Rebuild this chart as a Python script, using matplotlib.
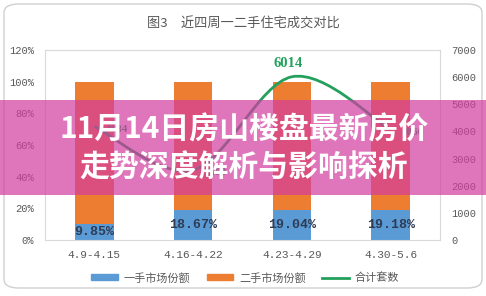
import matplotlib.pyplot as plt
from matplotlib.patches import FancyBboxPatch, Rectangle, Patch
from matplotlib.lines import Line2D
from matplotlib.path import Path
from matplotlib.patches import PathPatch

weeks = ['4.9-4.15', '4.16-4.22', '4.23-4.29', '4.30-5.6']
first_share = [9.85, 18.67, 19.04, 19.18]
second_share = [100 - v for v in first_share]
total_units = [4184, 2580, 6014, 4060]

BLUE = '#5B9BD5'
ORANGE = '#ED7D31'
GREEN = '#23A05C'
GREY = '#595959'
CJK = ['Noto Sans CJK SC', 'DejaVu Sans']

fig = plt.figure(figsize=(4.86, 2.96), dpi=100)
W, H = 486.0, 296.0

# rounded chart frame
frame = FancyBboxPatch((4 / W, 8 / H), 478 / W, 284 / H,
                       boxstyle='round,pad=0,rounding_size=0.03',
                       transform=fig.transFigure, facecolor='white',
                       edgecolor='#D0D0D0', lw=1.0, zorder=-5)
fig.patches.append(frame)

fig.text(243 / W, 1 - 24 / H, '图3　近四周一二手住宅成交对比', ha='center', va='center',
         fontsize=9.5, color=GREY, family=CJK)

ax = fig.add_axes([45 / W, 56 / H, 395 / W, 190 / H])
ax.set_facecolor('none')
x = range(len(weeks))
b1 = ax.bar(x, first_share, width=0.39, color=BLUE, zorder=2)
ax.bar(x, second_share, bottom=first_share, width=0.39, color=ORANGE, zorder=2)
ax.bar_label(b1, labels=['%.2f%%' % v for v in first_share], label_type='center',
             fontsize=9.5, fontweight='bold', color='#2E3B55', family='Liberation Mono')
ax.set_xlim(-0.5, 3.5)
ax.set_ylim(0, 120)
ax.set_yticks(range(0, 121, 20))
ax.set_yticklabels(['%d%%' % v for v in range(0, 121, 20)])
ax.set_xticks(list(x))
ax.set_xticklabels(weeks)
for s in ax.spines.values():
    s.set_color('#D9D9D9')
    s.set_linewidth(0.8)
ax.tick_params(length=0, labelsize=7.5, colors=GREY, pad=8)
for t in ax.get_xticklabels() + ax.get_yticklabels():
    t.set_family('Liberation Mono')
ax.tick_params(axis='x', labelsize=8, pad=7)

ax2 = ax.twinx()
ax2.set_ylim(0, 7000)
ax2.set_yticks(range(0, 7001, 1000))
ax2.tick_params(length=0, labelsize=7.5, colors=GREY, pad=8)
for t in ax2.get_yticklabels():
    t.set_family('Liberation Mono')
for s in ax2.spines.values():
    s.set_visible(False)

# smoothed line (Catmull-Rom through the data points)
pts = list(zip(x, total_units))
ext = [pts[0]] + pts + [pts[-1]]
verts = [pts[0]]
codes = [Path.MOVETO]
for i in range(1, len(ext) - 2):
    p0, p1, p2, p3 = ext[i - 1], ext[i], ext[i + 1], ext[i + 2]
    c1 = (p1[0] + (p2[0] - p0[0]) / 6, p1[1] + (p2[1] - p0[1]) / 6)
    c2 = (p2[0] - (p3[0] - p1[0]) / 6, p2[1] - (p3[1] - p1[1]) / 6)
    verts += [c1, c2, p2]
    codes += [Path.CURVE4] * 3
ax2.add_patch(PathPatch(Path(verts, codes), facecolor='none', edgecolor=GREEN, lw=2, zorder=3))

for i, v in enumerate(total_units):
    if i == 2:
        ax2.annotate(str(v), (i, v), xytext=(-3, 5), textcoords='offset points', ha='center',
                     va='bottom', fontsize=10.5, fontweight='bold', color=GREEN, family='Liberation Serif')
    else:
        ax2.annotate(str(v), (i, v), xytext=(8, -2), textcoords='offset points', ha='left',
                     va='center', fontsize=8, fontweight='bold', color=GREEN, family='Liberation Serif')

handles = [Patch(color=BLUE), Patch(color=ORANGE), Line2D([], [], color=GREEN, lw=2)]
leg = fig.legend(handles, ['一手市场份额', '二手市场份额', '合计套数'], loc='center',
                 bbox_to_anchor=(245 / W, 1 - 278 / H), ncol=3, frameon=False,
                 handlelength=2.4, handleheight=0.45, columnspacing=1.5, handletextpad=0.5,
                 prop={'family': CJK, 'size': 8})
for t in leg.get_texts():
    t.set_color(GREY)

# pink overlay banner with headline
fig.patches.append(Rectangle((0, (H - 195) / H), 1, 95 / H, transform=fig.transFigure,
                             facecolor=(210 / 255, 60 / 255, 160 / 255), alpha=0.7,
                             edgecolor='none', zorder=10))
fig.text(244 / W, 1 - 130 / H, '11月14日房山楼盘最新房价', ha='center', va='center',
         fontsize=21.5, fontweight='bold', color='white', family=CJK, zorder=11)
fig.text(244 / W, 1 - 168 / H, '走势深度解析与影响探析', ha='center', va='center',
         fontsize=21.5, fontweight='bold', color='white', family=CJK, zorder=11)

fig.savefig('out.png', dpi=100)
